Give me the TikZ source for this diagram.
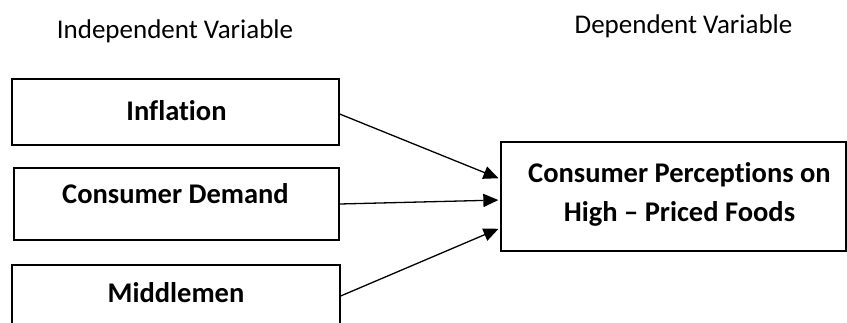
\documentclass[tikz,border=0pt]{standalone}
\usepackage{fontspec}
\setmainfont{Carlito}[Ligatures=NoCommon]
\usetikzlibrary{arrows.meta}
\begin{document}
\begin{tikzpicture}[x=1pt,y=-1pt,
  box/.style={draw,line width=1.3pt,rectangle,inner sep=0pt},
  lbl/.style={font=\bfseries\fontsize{28.5}{39}\selectfont,inner sep=0pt,anchor=base,align=center},
  head/.style={font=\fontsize{27}{30}\selectfont,inner sep=0pt,anchor=base},
  arr/.style={line width=1.3pt,shorten >=2pt,-{Triangle[length=15pt,width=13pt]}}]
\useasboundingbox (0,0) rectangle (847,322);
\clip (0,0) rectangle (847,322);
\node[head] (iv) at (175,38) {Independent Variable};
\node[head] (dv) at (683.5,33) {Dependent Variable};
\node[box,minimum width=327pt,minimum height=66pt] (infl) at (175.5,112) {};
\node[box,minimum width=325pt,minimum height=72pt] (dem) at (176.5,204) {};
\node[box,minimum width=328pt,minimum height=62pt] (mid) at (176,296) {};
\node[box,minimum width=345pt,minimum height=109pt] (cp) at (673.5,196.5) {};
\node[lbl] (tinfl) at (176.5,120) {Inflation};
\node[lbl] (tdem) at (175.5,203) {Consumer Demand};
\node[lbl] (tmid) at (176,302.5) {Middlemen};
\node[lbl] (tcp1) at (679.5,182) {Consumer Perceptions on};
\node[lbl] (tcp2) at (679.5,221) {High -- Priced Foods};
\draw[arr] ([yshift=-2pt]infl.east) -- ([yshift=17.5pt]cp.west);
\draw[arr] (dem.east) -- ([yshift=-3.5pt]cp.west);
\draw[arr] (mid.east) -- ([yshift=-31.5pt]cp.west);
\end{tikzpicture}
\end{document}
